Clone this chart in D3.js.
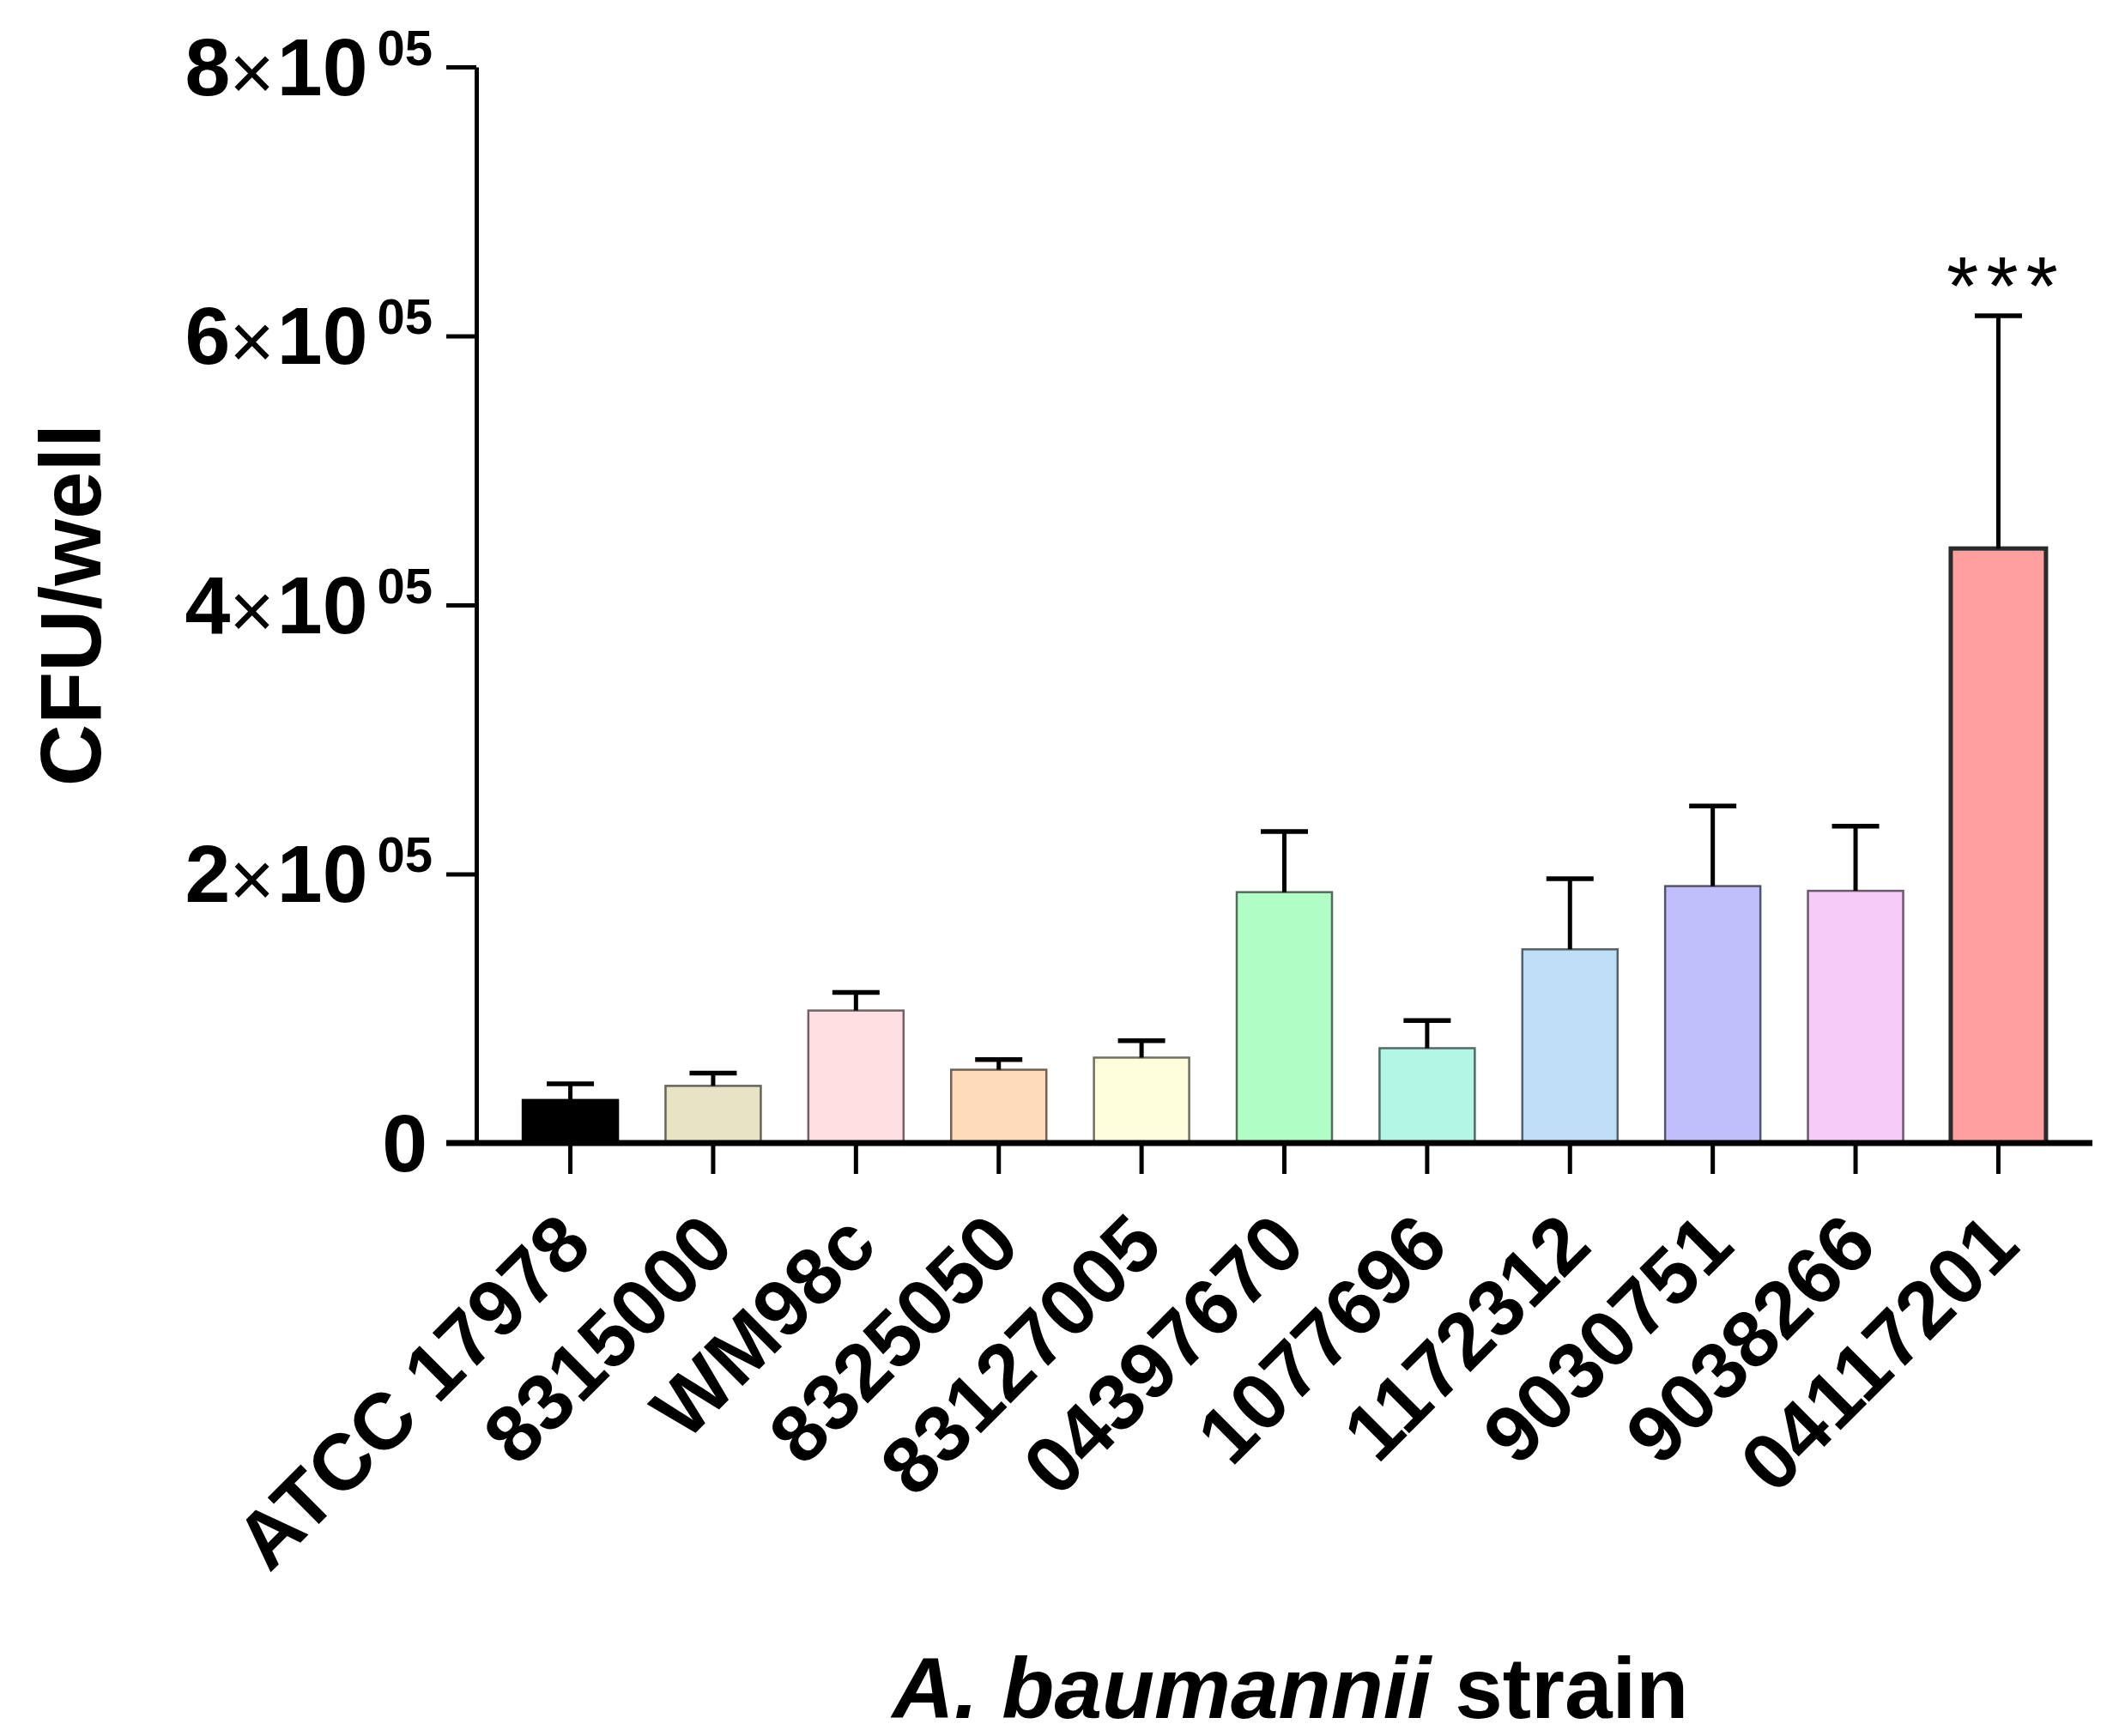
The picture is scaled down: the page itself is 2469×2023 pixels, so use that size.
<!DOCTYPE html>
<html>
<head>
<meta charset="utf-8">
<script src="https://cdn.jsdelivr.net/npm/d3@7"></script>
<style>
  body { margin: 0; background: #fff; }
  svg { display: block; }
</style>
</head>
<body>
<div id="chart"></div>
<script>
// CFU per well for each A. baumannii strain (mean + upper SD)
const strains = ["ATCC 17978", "8315000", "WM98c", "8325050", "83127005", "04397670",
                 "1077696", "1172312", "9030751", "9038266", "04117201"];
const cfuMean = [32000, 42500, 98500, 54500, 63500, 186500, 70500, 144000, 191000, 187500, 442000];
const cfuSd = [12000, 9500, 13500, 7500, 12500, 45000, 20500, 52500, 59500, 48000, 173000];
const barColors = ["#000000", "#e9e3c5", "#ffdfe2", "#fedcbb", "#fefddb", "#b0fdc6",
                   "#b3f6e6", "#bfdff7", "#c0bffb", "#f7cbf7", "#ff9f9f"];
const sigMarks = ["", "", "", "", "", "", "", "", "", "", "***"];
const yTicks = [0, 200000, 400000, 600000, 800000];

const width = 2469, height = 2023;
const margin = { top: 78, right: 31, bottom: 691, left: 555 };
const innerW = width - margin.left - margin.right;
const innerH = height - margin.top - margin.bottom;
const font = "'Liberation Sans', Arial, sans-serif";

const svg = d3.select("#chart").append("svg")
  .attr("width", width)
  .attr("height", height)
  .attr("font-family", font);

const g = svg.append("g").attr("transform", `translate(${margin.left},${margin.top})`);

const x = d3.scaleBand()
  .domain(strains)
  .range([0, innerW])
  .paddingInner(0.333)
  .paddingOuter(0.325);

const y = d3.scaleLinear().domain([0, 800000]).range([innerH, 0]);

const data = strains.map((s, i) => ({
  name: s, mean: cfuMean[i], sd: cfuSd[i], color: barColors[i], sig: sigMarks[i]
}));

// bars
g.selectAll("rect.bar")
  .data(data)
  .join("rect")
  .attr("class", "bar")
  .attr("x", d => x(d.name))
  .attr("y", d => y(d.mean))
  .attr("width", x.bandwidth())
  .attr("height", d => y(0) - y(d.mean))
  .attr("fill", d => d.color)
  .attr("stroke", (d, i) => i === strains.length - 1 ? "#2b2b2b" : d3.color(d.color).darker(2.3))
  .attr("stroke-width", (d, i) => i === strains.length - 1 ? 5 : 2.5);

// error bars (upper only)
const cap = 55;
const err = g.selectAll("g.err").data(data).join("g").attr("class", "err")
  .attr("transform", d => `translate(${x(d.name) + x.bandwidth() / 2},0)`);
err.append("line")
  .attr("y1", d => y(d.mean)).attr("y2", d => y(d.mean + d.sd))
  .attr("stroke", "#000").attr("stroke-width", 5);
err.append("line")
  .attr("x1", -cap / 2).attr("x2", cap / 2)
  .attr("y1", d => y(d.mean + d.sd)).attr("y2", d => y(d.mean + d.sd))
  .attr("stroke", "#000").attr("stroke-width", 5.5);

// significance stars
g.selectAll("text.sig")
  .data(data.filter(d => d.sig))
  .join("text")
  .attr("class", "sig")
  .attr("x", d => x(d.name) + x.bandwidth() / 2 + 9)
  .attr("y", d => y(d.mean + d.sd) - 2)
  .attr("text-anchor", "middle")
  .attr("font-size", 96)
  .attr("letter-spacing", 9)
  .text(d => d.sig);

// y axis
const yAxis = g.append("g")
  .call(d3.axisLeft(y).tickValues(yTicks).tickSize(35).tickSizeOuter(0));
yAxis.select(".domain").attr("stroke-width", 5);
yAxis.selectAll(".tick line").attr("stroke-width", 5);
yAxis.selectAll(".tick text")
  .attr("y", 32).attr("dy", null)
  .attr("text-anchor", "end")
  .attr("font-weight", "bold")
  .attr("fill", "#000")
  .text(null)
  .each(function (v) {
    const t = d3.select(this);
    if (v === 0) {
      t.attr("x", -57);
      t.append("tspan").attr("font-size", 95).text("0");
      return;
    }
    t.attr("x", -51);
    t.append("tspan").attr("font-size", 95).text(v / 100000);
    t.append("tspan").attr("dx", -1).attr("dy", 5).attr("font-size", 90)
      .attr("font-weight", "normal").text("\u00d7");
    t.append("tspan").attr("dx", 3).attr("dy", -5).attr("font-size", 95).text("10");
    t.append("tspan").attr("dx", 11).attr("dy", -35).attr("font-size", 58).text("05");
  });

// x axis
const xAxis = g.append("g")
  .attr("transform", `translate(0,${innerH})`)
  .call(d3.axisBottom(x).tickSize(36).tickSizeOuter(0));
xAxis.select(".domain")
  .attr("d", `M${-35},0H${x.range()[1]}`)
  .attr("stroke-width", 7);
xAxis.selectAll(".tick line").attr("stroke-width", 5);
xAxis.selectAll(".tick text")
  .attr("x", 0).attr("y", 0).attr("dy", null)
  .attr("transform", "translate(28,123) rotate(-45)")
  .attr("text-anchor", "end")
  .attr("font-size", 93)
  .attr("font-weight", "bold")
  .attr("fill", "#000");

// axis titles
svg.append("text")
  .attr("transform", `translate(117,${margin.top + innerH / 2})rotate(-90)`)
  .attr("text-anchor", "middle")
  .attr("font-size", 100)
  .attr("font-weight", "bold")
  .text("CFU/well");

const xt = svg.append("text")
  .attr("x", margin.left + innerW / 2 + 7)
  .attr("y", 2002)
  .attr("text-anchor", "middle")
  .attr("font-size", 100)
  .attr("font-weight", "bold");
xt.append("tspan").attr("font-style", "italic").text("A. baumannii");
xt.append("tspan").text(" strain");
</script>
</body>
</html>
